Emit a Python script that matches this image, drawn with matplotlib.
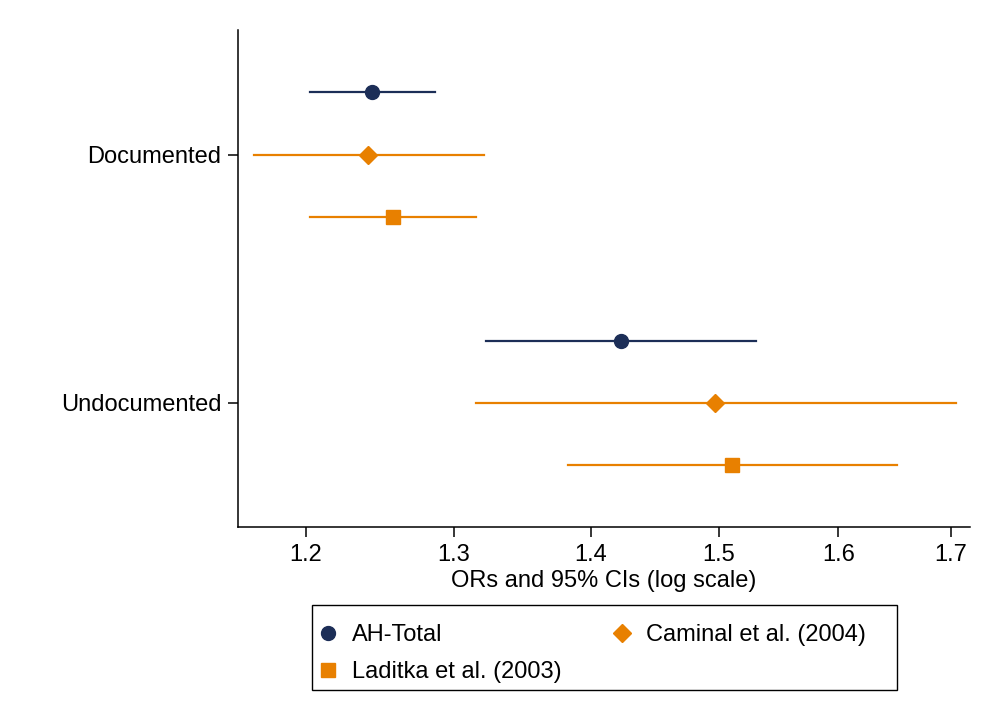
import matplotlib
matplotlib.use("Agg")
import matplotlib.pyplot as plt
from matplotlib.lines import Line2D
from matplotlib.patches import Rectangle
from matplotlib.ticker import FixedLocator, FixedFormatter, NullLocator

plt.rcParams["font.family"] = ["Liberation Sans", "DejaVu Sans"]

# ---------------------------------------------------------------------------
# data (odds ratios with 95% CIs)
# ---------------------------------------------------------------------------
groups = ["Documented", "Undocumented"]
series = ["AH-Total", "Caminal et al. (2004)", "Laditka et al. (2003)"]

or_ah = [1.244, 1.423]
lo_ah = [1.203, 1.323]
hi_ah = [1.287, 1.530]

or_caminal = [1.241, 1.497]
lo_caminal = [1.167, 1.316]
hi_caminal = [1.321, 1.705]

or_laditka = [1.258, 1.511]
lo_laditka = [1.203, 1.383]
hi_laditka = [1.316, 1.651]

xticks = [1.2, 1.3, 1.4, 1.5, 1.6, 1.7]

navy = "#1c2e57"
orange = "#e88000"
FS = 17

styles = [
    (or_ah, lo_ah, hi_ah, navy, "o", 10, 0.25),
    (or_caminal, lo_caminal, hi_caminal, orange, "D", 9, 0.0),
    (or_laditka, lo_laditka, hi_laditka, orange, "s", 9.5, -0.25),
]

fig = plt.figure(figsize=(9.85, 7.22), dpi=100)
ax = fig.add_axes([0.2416, 0.270, 0.7434, 0.688])

ypos = [2, 1]
for est, lo, hi, col, mk, ms, off in styles:
    for g in range(len(groups)):
        y = ypos[g] + off
        ax.plot([lo[g], hi[g]], [y, y], color=col, lw=1.6, zorder=2)
        ax.plot(est[g], y, marker=mk, color=col, ms=ms, mec=col, zorder=3,
                linestyle="none")

ax.set_xscale("log")
ax.set_xlim(1.157, 1.718)
ax.xaxis.set_major_locator(FixedLocator(xticks))
ax.xaxis.set_major_formatter(FixedFormatter([f"{t:.1f}" for t in xticks]))
ax.xaxis.set_minor_locator(NullLocator())
ax.set_ylim(0.5, 2.5)
ax.set_yticks(ypos)
ax.set_yticklabels(groups)

for s in ["top", "right"]:
    ax.spines[s].set_visible(False)
for s in ["left", "bottom"]:
    ax.spines[s].set_linewidth(1.1)
ax.tick_params(axis="both", direction="out", length=7, width=1.1,
               labelsize=FS, pad=5)
ax.set_xlabel("ORs and 95% CIs (log scale)", fontsize=FS, labelpad=3)

# legend box drawn by hand so its size matches the reference
fig.patches.append(Rectangle((0.317, 0.044), 0.594, 0.118, transform=fig.transFigure,
                             fill=False, edgecolor="black", lw=1.0))

# legend: row 1 AH-Total / Caminal, row 2 Laditka
h_ah = Line2D([], [], marker="o", color=navy, ls="none", ms=10)
h_cam = Line2D([], [], marker="D", color=orange, ls="none", ms=9)
h_lad = Line2D([], [], marker="s", color=orange, ls="none", ms=9.5)
fig.legend([h_ah, h_lad, h_cam],
           [series[0], series[2], series[1]],
           ncol=2, loc="upper left", bbox_to_anchor=(0.321, 0.136),
           frameon=False, fontsize=FS, handletextpad=0.52,
           handlelength=1.0, borderpad=0.0, labelspacing=0.66,
           columnspacing=2.05, borderaxespad=0)

fig.savefig("out.png", dpi=100)
